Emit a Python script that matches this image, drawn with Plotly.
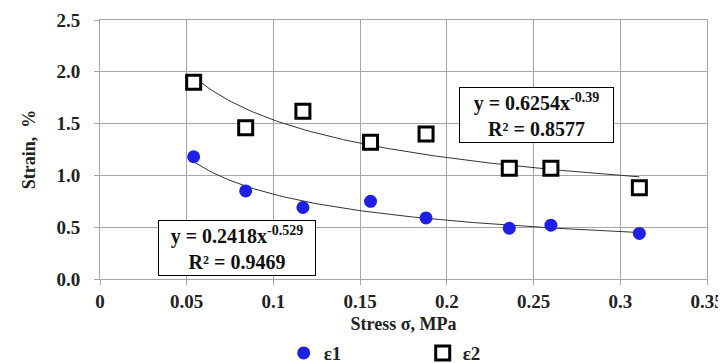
import numpy as np
import plotly.graph_objects as go

stress = [0.054, 0.084, 0.117, 0.156, 0.188, 0.236, 0.260, 0.311]
eps1 = [1.18, 0.85, 0.69, 0.75, 0.59, 0.49, 0.52, 0.44]
eps2 = [1.90, 1.46, 1.62, 1.32, 1.40, 1.07, 1.07, 0.88]

# power trendlines as shown on the chart: y = a * x^b
fit1 = (0.2418, -0.529)
fit2 = (0.6254, -0.39)
r2_1 = 0.9469
r2_2 = 0.8577

xt = np.linspace(min(stress), max(stress), 120)

FF = "Liberation Serif"
GRID = "#a6a6a6"

def f(size, color="#222222"):
    return dict(family=FF, size=size, color=color, weight="bold")

fig = go.Figure()
fig.add_trace(go.Scatter(x=xt, y=fit1[0] * xt ** fit1[1], mode="lines",
                         line=dict(color="#333333", width=1), showlegend=False, hoverinfo="skip"))
fig.add_trace(go.Scatter(x=xt, y=fit2[0] * xt ** fit2[1], mode="lines",
                         line=dict(color="#333333", width=1), showlegend=False, hoverinfo="skip"))
fig.add_trace(go.Scatter(x=stress, y=eps1, mode="markers", name="ε1",
                         marker=dict(symbol="circle", size=13, color="#1f1fe6",
                                     line=dict(width=0))))
fig.add_trace(go.Scatter(x=stress, y=eps2, mode="markers", name="ε2",
                         marker=dict(symbol="square", size=14, color="white",
                                     line=dict(width=3, color="black"))))
# empty helper trace so the overlay axis (short tick marks) is drawn
fig.add_trace(go.Scatter(x=[], y=[], yaxis="y2", showlegend=False, hoverinfo="skip"))

fig.add_annotation(x=0.079, y=0.304, xref="x", yref="y", showarrow=False,
                   text=f"y = {fit1[0]}x<sup>{fit1[1]}</sup><br>R² = {r2_1}",
                   font=f(20, "#111111"), width=152, height=50,
                   bgcolor="white", bordercolor="black", borderwidth=1, borderpad=2)
fig.add_annotation(x=0.2515, y=1.583, xref="x", yref="y", showarrow=False,
                   text=f"y = {fit2[0]}x<sup>{fit2[1]}</sup><br>R² = {r2_2}",
                   font=f(20, "#111111"), width=149, height=50,
                   bgcolor="white", bordercolor="black", borderwidth=1, borderpad=2)

# page has an 8px body margin, so the figure is 8px smaller than the window
fig.update_layout(
    width=718, height=355,
    margin=dict(l=92, r=19, t=12, b=84, autoexpand=False),
    paper_bgcolor="white", plot_bgcolor="white",
    font=f(18),
    xaxis=dict(range=[0, 0.35], dtick=0.05, tickformat="~g",
               showgrid=True, gridcolor=GRID, gridwidth=1,
               zeroline=False, showline=True, linecolor=GRID, mirror=True,
               ticks="outside", ticklen=5, tickcolor=GRID,
               tickfont=f(19),
               title=dict(text="Stress σ, MPa", font=f(18), standoff=10)),
    yaxis=dict(range=[0, 2.5], dtick=0.5, tickformat=".1f",
               showgrid=True, gridcolor=GRID, gridwidth=1,
               zeroline=False, showline=True, linecolor=GRID, mirror=True,
               ticks="outside", ticklen=15, tickcolor="rgba(0,0,0,0)",
               tickfont=f(19),
               title=dict(text="Strain,  %", font=f(18), standoff=16)),
    yaxis2=dict(range=[0, 2.5], dtick=0.5, overlaying="y", side="left",
                showgrid=False, zeroline=False, showline=False,
                showticklabels=False, ticks="outside", ticklen=5, tickcolor=GRID),
    legend=dict(orientation="h", xref="container", x=0.384, xanchor="left",
                yref="container", y=0.028, yanchor="middle",
                font=f(19), entrywidth=94, itemwidth=30,
                bgcolor="rgba(0,0,0,0)"),
)

fig.write_html("out.html")
